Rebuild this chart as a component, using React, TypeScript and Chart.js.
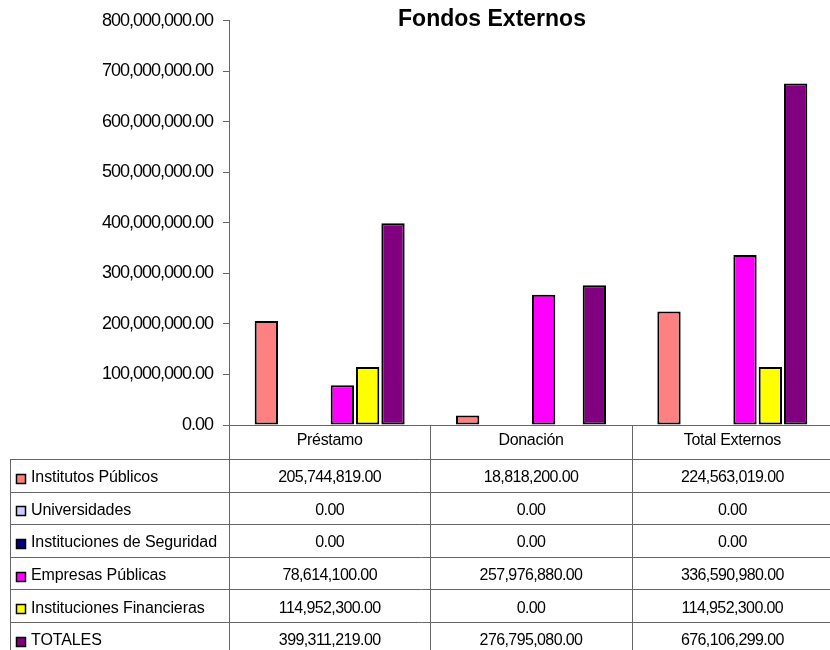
import React, { useEffect, useRef } from "react";
import { Chart, registerables } from "chart.js";

Chart.register(...registerables);

const chartTitle = "Fondos Externos";
const categories = ["Préstamo", "Donación", "Total Externos"];
const seriesNames = [
  "Institutos Públicos",
  "Universidades",
  "Instituciones de Seguridad",
  "Empresas Públicas",
  "Instituciones Financieras",
  "TOTALES",
];
const institutosPublicos = [205744819, 18818200, 224563019];
const universidades = [0, 0, 0];
const institucionesSeguridad = [0, 0, 0];
const empresasPublicas = [78614100, 257976880, 336590980];
const institucionesFinancieras = [114952300, 0, 114952300];
const totales = [399311219, 276795080, 676106299];
const seriesColors = ["#FF8080", "#CCCCFF", "#000080", "#FF00FF", "#FFFF00", "#800080"];
const yMin = 0;
const yMax = 800000000;
const yStep = 100000000;

const seriesValues = [
  institutosPublicos,
  universidades,
  institucionesSeguridad,
  empresasPublicas,
  institucionesFinancieras,
  totales,
];

const fmt = (v: number) =>
  v.toLocaleString("en-US", { minimumFractionDigits: 2, maximumFractionDigits: 2 });

const FONT = '"Liberation Sans", Arial, sans-serif';
const LINE = "#666666";

const tablePlugin = {
  id: "tablePlugin",
  beforeDraw(chart: any) {
    (chart.ctx as any).letterSpacing = "-1px";
  },
  afterDraw(chart: any) {
    const ctx = chart.ctx as CanvasRenderingContext2D & { letterSpacing: string };
    const area = chart.chartArea;
    const left = area.left;
    const right = area.right;
    const axisY = area.bottom;
    const catW = (right - left) / categories.length;
    const headerBottom = axisY + 34;
    const rowH = 32.6;
    const tableLeft = 10;
    const H = chart.height;

    ctx.save();
    // title
    ctx.letterSpacing = "0px";
    ctx.fillStyle = "#000";
    ctx.font = `bold 23px ${FONT}`;
    ctx.textAlign = "center";
    ctx.textBaseline = "alphabetic";
    ctx.fillText(chartTitle, 492, 26);

    // lines
    ctx.strokeStyle = LINE;
    ctx.lineWidth = 1;
    ctx.beginPath();
    // category axis line
    ctx.moveTo(left, Math.round(axisY) + 0.5);
    ctx.lineTo(right, Math.round(axisY) + 0.5);
    // axis line extension
    ctx.moveTo(left + 0.5, axisY);
    ctx.lineTo(left + 0.5, H);
    for (let i = 1; i < categories.length; i++) {
      const x = Math.round(left + catW * i) + 0.5;
      ctx.moveTo(x, axisY);
      ctx.lineTo(x, H);
    }
    ctx.moveTo(tableLeft + 0.5, headerBottom);
    ctx.lineTo(tableLeft + 0.5, H);
    for (let r = 0; r < seriesNames.length; r++) {
      const y = Math.round(headerBottom + r * rowH) + 0.5;
      ctx.moveTo(tableLeft, y);
      ctx.lineTo(right, y);
    }
    ctx.stroke();

    // header
    ctx.font = `16px ${FONT}`;
    ctx.letterSpacing = "-0.3px";
    ctx.textBaseline = "middle";
    ctx.textAlign = "center";
    categories.forEach((c, i) => {
      ctx.fillText(c, left + catW * (i + 0.5), axisY + 16);
    });

    // rows
    seriesNames.forEach((name, r) => {
      const top = headerBottom + r * rowH;
      const cy = top + rowH / 2 + 2.5;
      // legend key
      ctx.fillStyle = seriesColors[r];
      ctx.fillRect(16, Math.round(cy - 4), 10, 10);
      ctx.strokeStyle = "#000";
      ctx.lineWidth = 1.5;
      ctx.strokeRect(16.5, Math.round(cy - 4) + 0.5, 9, 9);
      ctx.fillStyle = "#000";
      ctx.textAlign = "left";
      ctx.letterSpacing = "-0.1px";
      ctx.font = `16px ${FONT}`;
      ctx.fillText(name, 31, cy);
      ctx.textAlign = "center";
      ctx.letterSpacing = "-0.6px";
      ctx.font = `16px ${FONT}`;
      seriesValues[r].forEach((v, i) => {
        ctx.fillText(fmt(v), left + catW * (i + 0.5), cy);
      });
    });
    ctx.restore();
  },
};

export default function App() {
  const ref = useRef<HTMLCanvasElement | null>(null);

  useEffect(() => {
    if (!ref.current) return;
    const chart = new Chart(ref.current, {
      type: "bar",
      data: {
        labels: categories,
        datasets: seriesNames.map((name, i) => ({
          label: name,
          data: seriesValues[i],
          backgroundColor: seriesColors[i],
          borderColor: "#000000",
          borderWidth: (c: any) => (c.raw === 0 ? 0 : 2),
          borderSkipped: false,
          categoryPercentage: 0.755,
          barPercentage: 0.92,
        })),
      },
      options: {
        animation: false,
        responsive: false,
        devicePixelRatio: 1,
        layout: { padding: { top: 20, bottom: 225, left: 0, right: 7 } },
        plugins: {
          legend: { display: false },
          title: { display: false },
          tooltip: { enabled: false },
        },
        scales: {
          x: {
            display: false,
          },
          y: {
            min: yMin,
            max: yMax,
            afterFit: (scale: any) => {
              scale.width = 229;
            },
            ticks: {
              stepSize: yStep,
              color: "#000",
              padding: 10,
              font: { family: FONT, size: 18 },
              callback: (v: any) => fmt(Number(v)),
            },
            grid: {
              drawOnChartArea: false,
              drawTicks: true,
              tickLength: 6,
              color: LINE,
            },
            border: { display: true, color: LINE, width: 1 },
          },
        },
      },
      plugins: [tablePlugin],
    } as any);
    return () => chart.destroy();
  }, []);

  return (
    <div
      style={{
        position: "fixed",
        left: 0,
        top: 0,
        width: 830,
        height: 650,
        overflow: "hidden",
        background: "#fff",
      }}
    >
      <canvas ref={ref} width={840} height={650} style={{ width: 840, height: 650, display: "block" }} />
    </div>
  );
}
